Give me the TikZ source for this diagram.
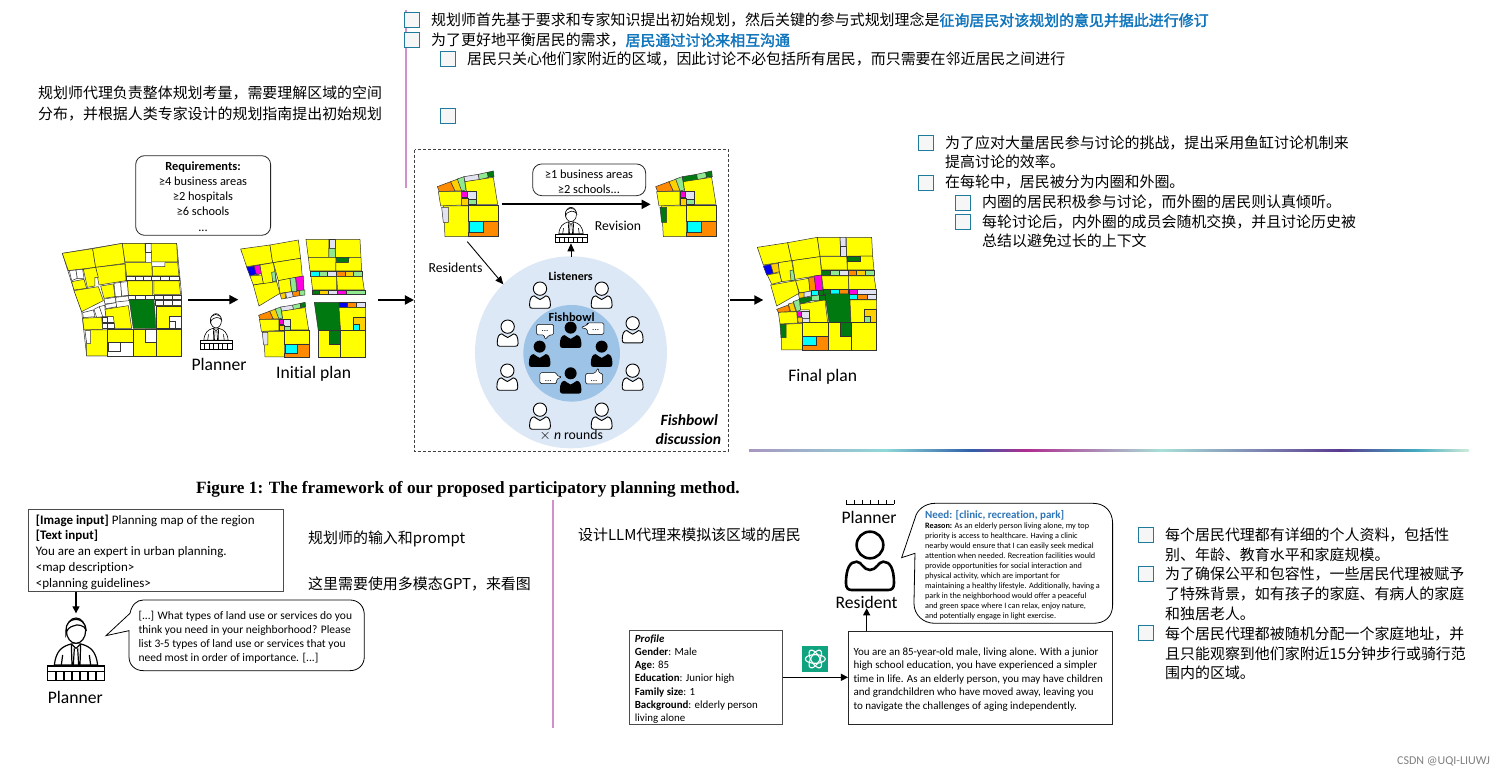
\documentclass[tikz,border=0pt]{standalone}
\usepackage{fontspec}
\setmainfont{Carlito}[Ligatures=NoCommon]
\newfontfamily\cjk{Noto Sans CJK SC}
\newfontfamily\capf{Liberation Serif}
\usetikzlibrary{arrows.meta}
\definecolor{Y}{HTML}{FFFF00}
\definecolor{G}{HTML}{007A10}
\definecolor{LG}{HTML}{90E890}
\definecolor{OR}{HTML}{FF8A00}
\definecolor{GD}{HTML}{FFD000}
\definecolor{CY}{HTML}{00FFFF}
\definecolor{MG}{HTML}{FF00E0}
\definecolor{LV}{HTML}{E2E2F2}
\definecolor{BL}{HTML}{0000F0}
\definecolor{W}{HTML}{FFFFFF}
\definecolor{blueT}{HTML}{0F75BD}
\definecolor{needT}{HTML}{2E75B6}
\definecolor{outerC}{HTML}{DCE8F5}
\definecolor{innerC}{HTML}{9DC3E6}
\definecolor{cbline}{HTML}{1F7A9C}
\definecolor{cbfill}{HTML}{F6F6F6}
\definecolor{pinkL}{HTML}{D090CC}
\definecolor{g1}{HTML}{A896C0}
\definecolor{g2}{HTML}{8FD8D8}
\definecolor{g3}{HTML}{2F5FA8}
\definecolor{g4}{HTML}{B02C90}
\definecolor{g5}{HTML}{A8E0D8}
\definecolor{g6}{HTML}{5A3A90}
\definecolor{g7}{HTML}{40A8C0}
\definecolor{g8}{HTML}{D0ECD8}
\definecolor{logoC}{HTML}{10A37F}
\tikzset{
  cellp/.style={draw=black!80,line width=0.5pt,line join=miter},
  arrowb/.style={draw=black,line width=1.9pt,-{Triangle[length=9pt,width=9pt]}},
  arrowm/.style={draw=black,line width=1.2pt,-{Triangle[length=7pt,width=7pt]}},
  arrowt/.style={draw=black,line width=0.9pt,-{Triangle[length=8pt,width=7pt]}},
  cbox/.style={draw=cbline,fill=cbfill,line width=0.9pt,minimum width=15pt,minimum height=15pt,inner sep=0pt},
  rbox/.style={draw=black!85,fill=white,line width=0.8pt,rounded corners=9pt},
  sbox/.style={draw=black!70,fill=white,line width=1pt},
  bub/.style={draw=black,fill=white,line width=0.8pt,line join=miter},
}
\newcounter{nn}
\newcommand{\C}[2]{\path[cellp,fill=#1] plot coordinates {#2} -- cycle;}
\newcommand{\R}[5]{\path[cellp,fill=#1] (#2,#3) rectangle (#4,#5);}
\newcommand{\T}[5]{\stepcounter{nn}\node[anchor=#1,inner sep=0pt,yshift=-0.33*#4 pt] (n\arabic{nn}) at (#2,#3) {\fontsize{#4}{#4}\selectfont #5};}
\newcommand{\Z}[4][base west]{\T{#1}{#2}{#3}{14.95}{\cjk #4}}
\newcommand{\CB}[2]{\stepcounter{nn}\node[cbox,anchor=north west] (n\arabic{nn}) at (#1,#2) {};}
\newcommand{\personbody}{(-72,115) .. controls (-72,70) and (-60,50) .. (-40,50) .. controls (-25,50) and (-20,75) .. (0,75) .. controls (20,75) and (25,50) .. (40,50) .. controls (60,50) and (72,70) .. (72,115) .. controls (72,130) and (65,135) .. (55,135) -- (-55,135) .. controls (-65,135) and (-72,130) .. (-72,115) -- cycle}
\newcommand{\personO}[5]{\begin{scope}[shift={(#1,#2)},x=#3pt,y=-#3pt]
  \draw[line width=#4pt,fill=white] \personbody; \draw[line width=#4pt,fill=white] (0,0) circle[radius=#5];\end{scope}}
\newcommand{\personF}[3]{\begin{scope}[shift={(#1,#2)},x=#3pt,y=-#3pt]
  \fill[black] \personbody; \fill[black] (0,0) circle[radius=40];\end{scope}}
\newcommand{\planner}[4]{\begin{scope}[shift={(#1,#2)},x=#3pt,y=-#3pt,line width=#4pt]
  \draw[fill=white] (-65,45) .. controls (-60,5) and (-45,-10) .. (-15,-18) -- (15,-18) .. controls (45,-10) and (60,5) .. (65,45) -- cycle;
  \draw[fill=white] (-14,-18) -- (0,-5) -- (14,-18);
  \draw (-14,-18) -- (-12,45) (14,-18) -- (12,45) (-5,-5) -- (-8,45) (5,-5) -- (8,45);
  \draw (-44,45) -- (-40,15) (44,45) -- (40,15);
  \draw[fill=white] (0,-58) ellipse[x radius=29,y radius=38];
  \draw[fill=white] (-30,-58) .. controls (-32,-100) and (25,-105) .. (30,-62) .. controls (25,-72) and (5,-80) .. (-8,-72) .. controls (-18,-70) and (-28,-62) .. (-30,-48) -- cycle;
  \draw[fill=white] (-85,48) rectangle (85,92);
  \draw (-85,64) -- (85,64);
  \foreach \q in {-60,-36,-12,12,36,60} {\draw (\q,64) -- (\q,92);}
\end{scope}}
\newcommand{\smallmap}[4]{\begin{scope}[shift={(#1,#2)},x=#3pt,y=-#3pt]
\C{OR}{(0,47)(40,32)(53,60)(6,62)}
\C{GD}{(40,32)(62,24)(78,60)(53,60)}
\C{LG}{(60,24)(80,17)(86,57)(73,60)}
\ifnum#4=1 \C{G}{(80,17)(123,10)(126,27)(83,32)} \else \C{LV}{(80,17)(123,10)(126,27)(83,32)} \fi
\C{LG}{(123,10)(150,4)(153,19)(126,27)}
\C{G}{(150,4)(168,0)(170,17)(153,19)}
\C{Y}{(83,32)(168,19)(181,100)(93,100)}
\C{MG}{(73,62)(90,62)(90,80)(73,80)}
\C{LV}{(90,60)(116,60)(116,85)(90,85)}
\C{LG}{(90,85)(116,85)(116,100)(90,100)}
\C{GD}{(73,82)(93,82)(93,102)(73,102)}
\C{Y}{(3,62)(73,62)(73,102)(10,105)}
\C{Y}{(18,105)(93,105)(93,197)(23,197)}
\ifnum#4=1 \C{G}{(13,109)(33,109)(33,154)(18,154)} \else \C{LV}{(13,109)(33,109)(33,154)(18,154)} \fi
\C{Y}{(93,102)(183,102)(183,150)(93,150)}
\C{OR}{(138,150)(183,150)(183,197)(93,197)(93,184)(138,184)}
\C{CY}{(96,152)(138,152)(138,184)(96,184)}
\end{scope}}
\newcommand{\seg}[4]{\path[left color=#3,right color=#4,draw=none] (#1,449.2) rectangle (#2,451);}
\begin{document}
\begin{tikzpicture}[x=1pt,y=-1pt]
\useasboundingbox (0,0) rectangle (1504,779);
\fill[white] (0,0) rectangle (1504,779);

% ---------- annotation rules
\coordinate (pa) at (406,10); \coordinate (pb) at (406,188);
\draw[pinkL,line width=1.6pt] (pa) -- (pb);
\seg{749}{885}{g1}{g2}\seg{885}{971}{g2}{g3}\seg{971}{1026}{g3}{g4}\seg{1026}{1161}{g4}{g5}\seg{1161}{1340}{g5}{g6}\seg{1340}{1414}{g6}{g7}\seg{1414}{1469}{g7}{g8}
\coordinate (va) at (553,500); \coordinate (vb) at (553,728);
\draw[pinkL,line width=1.4pt] (va) -- (vb);

% ---------- Chinese notes, top
\CB{404}{12}\CB{404}{32}\CB{440}{51}\CB{440}{108}
\Z{431}{21}{规划师首先基于要求和专家知识提出初始规划，然后关键的参与式规划理念是\textcolor{blueT}{\addfontfeature{FakeBold=2}征询居民对该规划的意见并据此进行修订}}
\Z{431}{41}{为了更好地平衡居民的需求，\textcolor{blueT}{\addfontfeature{FakeBold=2}居民通过讨论来相互沟通}}
\Z{467}{60}{居民只关心他们家附近的区域，因此讨论不必包括所有居民，而只需要在邻近居民之间进行}
\Z{38}{94}{规划师代理负责整体规划考量，需要理解区域的空间}
\Z{38}{115}{分布，并根据人类专家设计的规划指南提出初始规划}
\CB{918}{135}\CB{918}{175}\CB{955}{195}\CB{955}{214}
\Z{945}{144}{为了应对大量居民参与讨论的挑战，提出采用鱼缸讨论机制来}
\Z{945}{163}{提高讨论的效率。}
\Z{945}{183}{在每轮中，居民被分为内圈和外圈。}
\Z{982}{203}{内圈的居民积极参与讨论，而外圈的居民则认真倾听。}
\Z{982}{223}{每轮讨论后，内外圈的成员会随机交换，并且讨论历史被}
\Z{982}{242}{总结以避免过长的上下文}

% ---------- Chinese notes, bottom
\Z{308}{539}{规划师的输入和prompt}
\Z{308}{585}{这里需要使用多模态GPT，来看图}
\Z{578}{536}{设计LLM代理来模拟该区域的居民}
\CB{1138}{527}\CB{1138}{566}\CB{1138}{625}
\Z{1165}{536}{每个居民代理都有详细的个人资料，包括性}
\Z{1165}{556}{别、年龄、教育水平和家庭规模。}
\Z{1165}{575}{为了确保公平和包容性，一些居民代理被赋予}
\Z{1165}{595}{了特殊背景，如有孩子的家庭、有病人的家庭}
\Z{1165}{615}{和独居老人。}
\Z{1165}{635}{每个居民代理都被随机分配一个家庭地址，并}
\Z{1165}{655}{且只能观察到他们家附近15分钟步行或骑行范}
\Z{1165}{674}{围内的区域。}

% ---------- first panel (zoom-1 units)
\begin{scope}[shift={(30,150)},x=0.3333pt,y=-0.3333pt]
\path[rbox] (317,17) rectangle (722,256);
\T{base}{519}{50}{12.4}{\textbf{Requirements:}}
\T{base}{519}{95}{12.4}{≥4 business areas}
\T{base}{519}{140}{12.4}{≥2 hospitals}
\T{base}{519}{185}{12.4}{≥6 schools}
\T{base}{519}{232}{12.4}{...}
\C{W}{(97,310)(277,280)(440,280)(455,435)(455,618)(170,618)(155,485)(132,420)}
\C{Y}{(97,310)(188,296)(197,352)(115,362)}
\C{Y}{(188,296)(277,280)(285,340)(197,352)}
\C{Y}{(277,280)(345,280)(347,336)(285,336)}
\C{W}{(347,280)(363,280)(363,308)(347,308)}
\C{Y}{(363,280)(440,280)(443,336)(365,336)}
\C{Y}{(285,338)(365,338)(367,378)(290,378)}
\C{Y}{(367,350)(405,350)(405,338)(443,338)(447,378)(367,378)}
\C{Y}{(197,352)(285,342)(288,392)(207,405)}
\C{Y}{(160,358)(197,352)(205,382)(195,382)(195,408)(172,412)}
\C{Y}{(125,395)(162,388)(170,415)(132,420)}
\C{Y}{(132,422)(205,410)(220,452)(155,485)}
\C{Y}{(212,408)(250,402)(255,440)(222,445)}
\C{Y}{(292,393)(368,393)(368,436)(295,436)}
\C{Y}{(372,393)(447,393)(452,433)(372,433)}
\foreach \a/\b in {290/315,315/340,340/365,365/392,392/418,418/447}{\R{W}{\a}{380}{\b}{392}}
\foreach \a/\b in {290/315,315/345,345/372,372/400,400/428,428/455}{\R{W}{\a}{436}{\b}{448}}
\foreach \a/\b in {375/400,400/428,428/455}{\R{W}{\a}{450}{\b}{466}}
\C{W}{(118,362)(138,360)(142,385)(125,392)}
\C{W}{(138,360)(158,358)(162,385)(142,385)}
\C{W}{(252,400)(272,397)(275,440)(256,440)}
\C{W}{(272,397)(292,395)(295,436)(275,438)}
\C{W}{(222,447)(256,442)(258,458)(225,462)}
\C{W}{(258,442)(295,438)(297,452)(258,456)}
\C{W}{(225,464)(258,458)(260,470)(228,476)}
\C{W}{(158,488)(190,480)(195,500)(160,503)}
\C{W}{(192,478)(208,470)(220,500)(200,502)}
\C{W}{(208,470)(224,466)(228,500)(218,500)}
\C{W}{(218,502)(232,502)(232,518)(218,518)}
\C{W}{(218,520)(232,520)(232,536)(218,536)}
\C{W}{(232,500)(252,500)(252,518)(232,518)}
\C{W}{(232,520)(254,520)(254,536)(232,536)}
\C{G}{(298,450)(372,448)(378,535)(310,535)}
\C{Y}{(225,478)(295,467)(305,535)(255,535)(250,500)(228,500)}
\C{Y}{(158,505)(215,502)(218,538)(162,540)}
\C{Y}{(378,468)(455,468)(455,500)(418,500)(418,535)(378,535)}
\C{W}{(418,500)(455,500)(455,535)(418,535)}
\C{W}{(418,515)(436,515)(436,535)(418,535)}
\C{Y}{(168,540)(232,540)(232,618)(170,618)}
\C{W}{(165,542)(182,542)(182,580)(170,580)}
\C{Y}{(232,537)(310,537)(310,577)(232,577)}
\C{W}{(233,578)(310,578)(310,618)(233,618)}
\C{W}{(235,578)(272,578)(272,604)(235,604)}
\C{Y}{(310,537)(345,537)(345,577)(380,577)(380,618)(310,618)}
\C{W}{(345,537)(378,537)(378,577)(345,577)}
\C{Y}{(380,537)(455,537)(455,618)(380,618)}
\C{Y}{(632,297)(720,285)(728,338)(650,350)}
\C{Y}{(720,285)(805,270)(812,325)(728,338)}
\C{BL}{(650,352)(672,348)(680,372)(660,378)}
\C{MG}{(672,348)(690,345)(695,370)(680,375)}
\C{Y}{(690,345)(730,338)(740,395)(700,403)(695,375)}
\C{Y}{(660,378)(695,375)(700,400)(670,405)}
\C{LG}{(725,367)(735,365)(738,393)(728,395)}
\C{Y}{(730,338)(812,325)(817,380)(745,392)}
\C{Y}{(670,405)(740,395)(750,430)(687,468)}
\C{Y}{(745,392)(780,385)(785,425)(750,430)}
\C{GD}{(750,432)(765,428)(767,445)(755,447)}
\C{LV}{(767,428)(787,425)(790,440)(770,445)}
\C{OR}{(787,425)(807,422)(810,437)(790,440)}
\C{LG}{(808,420)(825,420)(825,435)(810,437)}
\C{LG}{(780,385)(797,382)(800,425)(785,425)}
\C{MG}{(797,382)(820,378)(822,420)(802,422)}
\C{Y}{(828,268)(897,268)(897,322)(835,322)}
\C{LV}{(897,268)(915,268)(915,295)(897,295)}
\C{LG}{(897,295)(915,295)(917,322)(897,322)}
\C{Y}{(917,268)(990,268)(993,322)(917,322)}
\C{Y}{(835,322)(918,322)(918,363)(840,363)}
\C{Y}{(918,337)(955,337)(957,322)(993,322)(995,363)(918,363)}
\C{G}{(918,322)(957,322)(955,337)(920,337)}
\R{CY}{842}{364}{868}{378}\R{LG}{868}{364}{893}{378}\R{LV}{893}{364}{920}{378}\R{OR}{920}{364}{945}{378}\R{GD}{945}{364}{970}{378}\R{LG}{970}{364}{997}{378}
\C{Y}{(843,380)(920,380)(920,420)(848,420)}
\C{Y}{(920,380)(997,380)(1003,420)(923,420)}
\R{G}{848}{420}{868}{433}\R{GD}{868}{420}{895}{433}\R{LV}{895}{420}{922}{433}\R{MG}{922}{420}{950}{433}\R{LG}{950}{420}{1005}{433}
\C{G}{(853,457)(927,457)(932,542)(865,542)}
\R{BL}{927}{457}{952}{473}\R{OR}{952}{457}{980}{473}\R{LV}{980}{457}{1007}{473}
\C{Y}{(927,473)(1007,473)(1007,503)(970,503)(970,542)(932,542)}
\R{GD}{970}{503}{1007}{542}\R{CY}{970}{522}{988}{542}
\C{Y}{(865,542)(897,542)(897,582)(932,582)(932,622)(865,622)}
\R{G}{897}{542}{932}{582}
\R{Y}{932}{542}{1007}{622}
\smallmap{686}{457}{0.2766}{0}
\coordinate (a1) at (475,449); \coordinate (a2) at (625,449);
\draw[arrowb] (a1) -- (a2);
\coordinate (a3) at (1045,450); \coordinate (a4) at (1152,450);
\draw[arrowb] (a3) -- (a4);
\planner{558}{545}{0.1875}{0.6}
\T{base}{567}{644}{17.6}{Planner}
\T{base}{851}{667}{17.6}{Initial plan}
\end{scope}

% ---------- discussion panel (zoom-2 units)
\begin{scope}[shift={(410,145)},x=0.3333pt,y=-0.3333pt]
\draw[black!75,line width=0.8pt,dash pattern=on 3pt off 2pt] (14,14) rectangle (955,920);
\fill[outerC] (483,622) circle[radius=288];
\fill[innerC] (485,625) circle[radius=145];
\smallmap{82}{78}{0.3333}{0}
\smallmap{737}{78}{0.3333}{1}
\path[rbox] (368,57) rectangle (707,152);
\T{base}{537}{87}{12.4}{≥1 business areas}
\T{base}{537}{132}{12.4}{≥2 schools...}
\coordinate (b1) at (275,178); \coordinate (b2) at (722,178);
\draw[arrowb] (b1) -- (b2);
\planner{483}{241}{0.1875}{0.6}
\T{base west}{554}{242}{13.7}{Revision}
\T{base west}{55}{370}{13.8}{Residents}
\coordinate (b3) at (172,290); \coordinate (b4) at (280,418);
\draw[arrowt] (b3) -- (b4);
\coordinate (b5) at (483,335); \coordinate (b6) at (483,295);
\draw[arrowt] (b5) -- (b6);
\T{base}{482}{395}{12}{\textbf{Listeners}}
\T{base}{485}{517}{12.4}{\textbf{Fishbowl}}
\personO{390}{431}{0.145}{0.9}{46}\personO{575}{431}{0.145}{0.9}{46}
\personO{293}{545}{0.145}{0.9}{46}\personO{668}{535}{0.145}{0.9}{46}
\personO{292}{677}{0.145}{0.9}{46}\personO{668}{677}{0.145}{0.9}{46}
\personO{390}{794}{0.145}{0.9}{46}\personO{575}{794}{0.145}{0.9}{46}
\personF{482}{548}{0.15}\personF{389}{605}{0.15}\personF{575}{605}{0.15}\personF{482}{685}{0.15}
\path[bub,line width=0.5pt,rounded corners=1.5pt] (380,538) -- (431,538) -- (431,570) -- (418,570) -- (405,584) -- (403,570) -- (380,570) -- cycle;
\T{base}{405}{552}{9}{...}
\path[bub,line width=0.5pt,rounded corners=1.5pt] (532,534) -- (582,534) -- (582,568) -- (532,568) -- (532,552) -- (512,548) -- (532,540) -- cycle;
\T{base}{557}{549}{9}{...}
\path[bub,line width=0.5pt,rounded corners=1.5pt] (390,683) -- (440,683) -- (440,692) -- (456,696) -- (440,702) -- (440,716) -- (390,716) -- cycle;
\T{base}{415}{700}{9}{...}
\path[bub,line width=0.5pt,rounded corners=1.5pt] (527,685) -- (555,685) -- (565,668) -- (567,685) -- (578,685) -- (578,717) -- (527,717) -- cycle;
\T{base}{552}{701}{9}{...}
\T{base}{484}{871}{13.7}{$\times$ {\itshape n} rounds}
\T{base}{838}{825}{15.6}{\textbf{\textit{Fishbowl}}}
\T{base}{835}{882}{15.6}{\textbf{\textit{discussion}}}
\end{scope}

% ---------- final plan (zoom-3 units)
\begin{scope}[shift={(730,230)},x=0.3333pt,y=-0.3333pt]
\C{Y}{(82,52)(173,38)(185,92)(100,105)}
\C{Y}{(173,38)(262,22)(270,80)(185,92)}
\C{Y}{(262,22)(330,22)(332,78)(270,78)}
\C{LV}{(330,22)(348,22)(348,50)(332,50)}
\C{LV}{(332,50)(350,50)(350,78)(332,78)}
\C{Y}{(350,22)(425,22)(428,78)(350,78)}
\C{Y}{(270,80)(350,80)(352,120)(275,120)}
\C{Y}{(352,93)(390,93)(390,78)(428,78)(432,120)(352,120)}
\C{G}{(352,78)(390,78)(390,93)(352,93)}
\R{G}{275}{122}{302}{135}\R{LG}{302}{122}{328}{135}\R{LV}{328}{122}{355}{135}\R{OR}{355}{122}{380}{135}\R{GD}{380}{122}{405}{135}\R{LG}{405}{122}{432}{135}
\C{BL}{(100,108)(122,103)(130,130)(110,135)}
\C{GD}{(122,103)(145,100)(148,125)(130,130)}
\C{Y}{(145,98)(185,92)(195,150)(155,155)(148,125)}
\C{Y}{(112,135)(148,128)(155,155)(125,163)}
\C{LG}{(180,122)(190,120)(195,150)(183,152)}
\C{Y}{(187,92)(270,80)(275,135)(195,148)}
\C{Y}{(122,165)(197,152)(207,190)(140,228)}
\C{Y}{(197,152)(236,145)(240,185)(208,188)}
\C{OR}{(236,143)(255,140)(258,182)(240,185)}
\C{MG}{(252,138)(275,135)(278,180)(258,182)}
\C{Y}{(275,138)(355,138)(355,178)(280,178)}
\C{Y}{(355,138)(432,138)(438,178)(357,178)}
\C{GD}{(205,190)(222,187)(222,203)(208,205)}
\C{LV}{(222,187)(243,183)(243,198)(222,202)}
\R{CY}{243}{182}{265}{197}
\R{G}{265}{180}{280}{195}
\R{G}{280}{178}{302}{192}\R{CY}{302}{178}{328}{192}\R{OR}{328}{178}{355}{192}\R{MG}{358}{178}{383}{192}\R{LV}{383}{178}{440}{192}
\R{CY}{358}{192}{383}{208}\R{OR}{383}{192}{413}{208}\R{LV}{413}{192}{440}{208}
\C{G}{(285,192)(358,192)(363,277)(297,277)}
\C{OR}{(140,238)(175,225)(180,245)(145,247)}
\C{GD}{(175,222)(190,218)(198,245)(182,245)}
\C{LG}{(190,215)(208,208)(212,240)(200,245)}
\C{G}{(208,205)(245,200)(245,212)(212,222)}
\C{LG}{(245,198)(268,195)(268,212)(245,212)}
\C{G}{(268,195)(285,195)(285,210)(268,210)}
\C{Y}{(210,222)(285,210)(293,277)(240,277)(238,240)(212,240)}
\C{MG}{(200,245)(215,245)(215,260)(202,260)}
\C{LV}{(215,243)(238,243)(238,265)(215,265)}
\C{LV}{(215,265)(238,265)(238,277)(218,277)}
\C{GD}{(202,262)(217,262)(217,277)(205,279)}
\C{Y}{(145,247)(200,245)(203,279)(150,282)}
\C{Y}{(360,210)(440,210)(440,277)(363,277)}
\R{GD}{402}{238}{440}{277}\R{LG}{402}{258}{420}{277}
\C{Y}{(155,283)(218,280)(218,360)(155,360)}
\C{G}{(150,283)(168,283)(168,323)(153,323)}
\R{Y}{218}{278}{295}{320}
\C{OR}{(258,320)(295,320)(295,360)(218,360)(218,347)(258,347)}
\R{CY}{218}{320}{258}{347}
\C{Y}{(295,278)(331,278)(331,320)(363,320)(363,360)(295,360)}
\R{G}{331}{278}{365}{320}
\R{Y}{365}{278}{440}{360}
\coordinate (c1) at (0,210); \coordinate (c2) at (100,210);
\draw[arrowb] (c1) -- (c2);
\T{base}{278}{437}{17.6}{Final plan}
\end{scope}

% ---------- caption
\T{base west}{196}{488}{17.2}{\capf\bfseries Figure 1: The framework of our proposed participatory planning method.}

% ---------- planner prompt (zoom-4 units)
\begin{scope}[shift={(20,500)},x=0.3333pt,y=-0.3333pt]
\path[sbox] (27,27) rectangle (790,275);
\T{base west}{47}{60}{13}{\textbf{[Image input]} Planning map of the region}
\T{base west}{47}{107}{13}{\textbf{[Text input]}}
\T{base west}{47}{155}{13}{You are an expert in urban planning.}
\T{base west}{47}{203}{13}{<map description>}
\T{base west}{47}{250}{13}{<planning guidelines>}
\coordinate (d1) at (168,275); \coordinate (d2) at (168,340);
\draw[arrowm] (d1) -- (d2);
\planner{168}{450}{0.3333}{1.2}
\T{base}{166}{592}{17.6}{Planner}
\path[bub] (330,340) .. controls (335,315) and (350,300) .. (370,300) -- (990,300) .. controls (1015,300) and (1033,318) .. (1033,345) -- (1033,470) .. controls (1033,495) and (1015,512) .. (990,512) -- (370,512) .. controls (345,512) and (327,495) .. (327,470) -- (327,392) -- (258,407) -- cycle;
\T{base west}{355}{347}{11.5}{[...] What types of land use or services do you}
\T{base west}{355}{388}{11.5}{think you need in your neighborhood? Please}
\T{base west}{355}{430}{11.5}{list 3-5 types of land use or services that you}
\T{base west}{355}{472}{11.5}{need most in order of importance. [...]}
\end{scope}

% ---------- resident (zoom-5 units)
\begin{scope}[shift={(620,495)},x=0.3333pt,y=-0.3333pt]
\coordinate (e0) at (678,27); \coordinate (e00) at (822,27);
\draw[line width=0.8pt] (e0) -- (e00);
\foreach \q in {678,702,726,750,774,798,822}{\draw[line width=0.8pt] (\q,15) -- (\q,27);}
\T{base}{747}{68}{17.6}{Planner}
\personO{750}{150}{0.3333}{2.6}{40}
\T{base}{740}{322}{17.6}{Resident}
\path[bub] (885,70) .. controls (890,45) and (915,25) .. (945,25) -- (1420,25) .. controls (1455,25) and (1478,50) .. (1478,85) -- (1478,330) .. controls (1478,365) and (1455,385) .. (1420,385) -- (945,385) .. controls (910,385) and (882,360) .. (882,325) -- (885,175) -- (845,188) -- cycle;
\T{base west}{915}{60}{11}{\textcolor{needT}{\textbf{Need: [clinic, recreation, park]}}}
\T{base west}{915}{93}{8.2}{\textbf{Reason:} As an elderly person living alone, my top}
\T{base west}{915}{123}{8.2}{priority is access to healthcare. Having a clinic}
\T{base west}{915}{153}{8.2}{nearby would ensure that I can easily seek medical}
\T{base west}{915}{183}{8.2}{attention when needed. Recreation facilities would}
\T{base west}{915}{213}{8.2}{provide opportunities for social interaction and}
\T{base west}{915}{243}{8.2}{physical activity, which are important for}
\T{base west}{915}{273}{8.2}{maintaining a healthy lifestyle. Additionally, having a}
\T{base west}{915}{303}{8.2}{park in the neighborhood would offer a peaceful}
\T{base west}{915}{333}{8.2}{and green space where I can relax, enjoy nature,}
\T{base west}{915}{363}{8.2}{and potentially engage in light exercise.}
\path[sbox] (28,407) rectangle (488,688);
\T{base west}{44}{431}{10.9}{\textbf{\textit{Profile}}}
\T{base west}{44}{470}{10.9}{\textbf{Gender}: Male}
\T{base west}{44}{510}{10.9}{\textbf{Age}: 85}
\T{base west}{44}{549}{10.9}{\textbf{Education}: Junior high}
\T{base west}{44}{590}{10.9}{\textbf{Family size}:  1}
\T{base west}{44}{629}{10.9}{\textbf{Background}: elderly person}
\T{base west}{44}{670}{10.9}{living alone}
\path[sbox,draw=black!85] (685,410) rectangle (1478,688);
\T{base west}{700}{472}{11}{You are an 85-year-old male, living alone. With a junior}
\T{base west}{700}{511}{11}{high school education, you have experienced a simpler}
\T{base west}{700}{552}{11}{time in life. As an elderly person, you may have children}
\T{base west}{700}{591}{11}{and grandchildren who have moved away, leaving you}
\T{base west}{700}{632}{11}{to navigate the challenges of aging independently.}
\coordinate (f1) at (488,547); \coordinate (f2) at (684,547);
\draw[arrowm] (f1) -- (f2);
\coordinate (f3) at (740,408); \coordinate (f4) at (740,340);
\draw[arrowm] (f3) -- (f4);
\fill[logoC] (547,453) rectangle (625,531);
\begin{scope}[shift={(586,492)}]
\foreach \q in {0,60,120}{\draw[white,line width=1.1pt,rotate=\q] (0,0) ellipse[x radius=30,y radius=13];}
\end{scope}
\end{scope}

\T{base east}{1490}{761}{12}{\textcolor{black!50}{CSDN @UQI-LIUWJ}}
\end{tikzpicture}
\end{document}
